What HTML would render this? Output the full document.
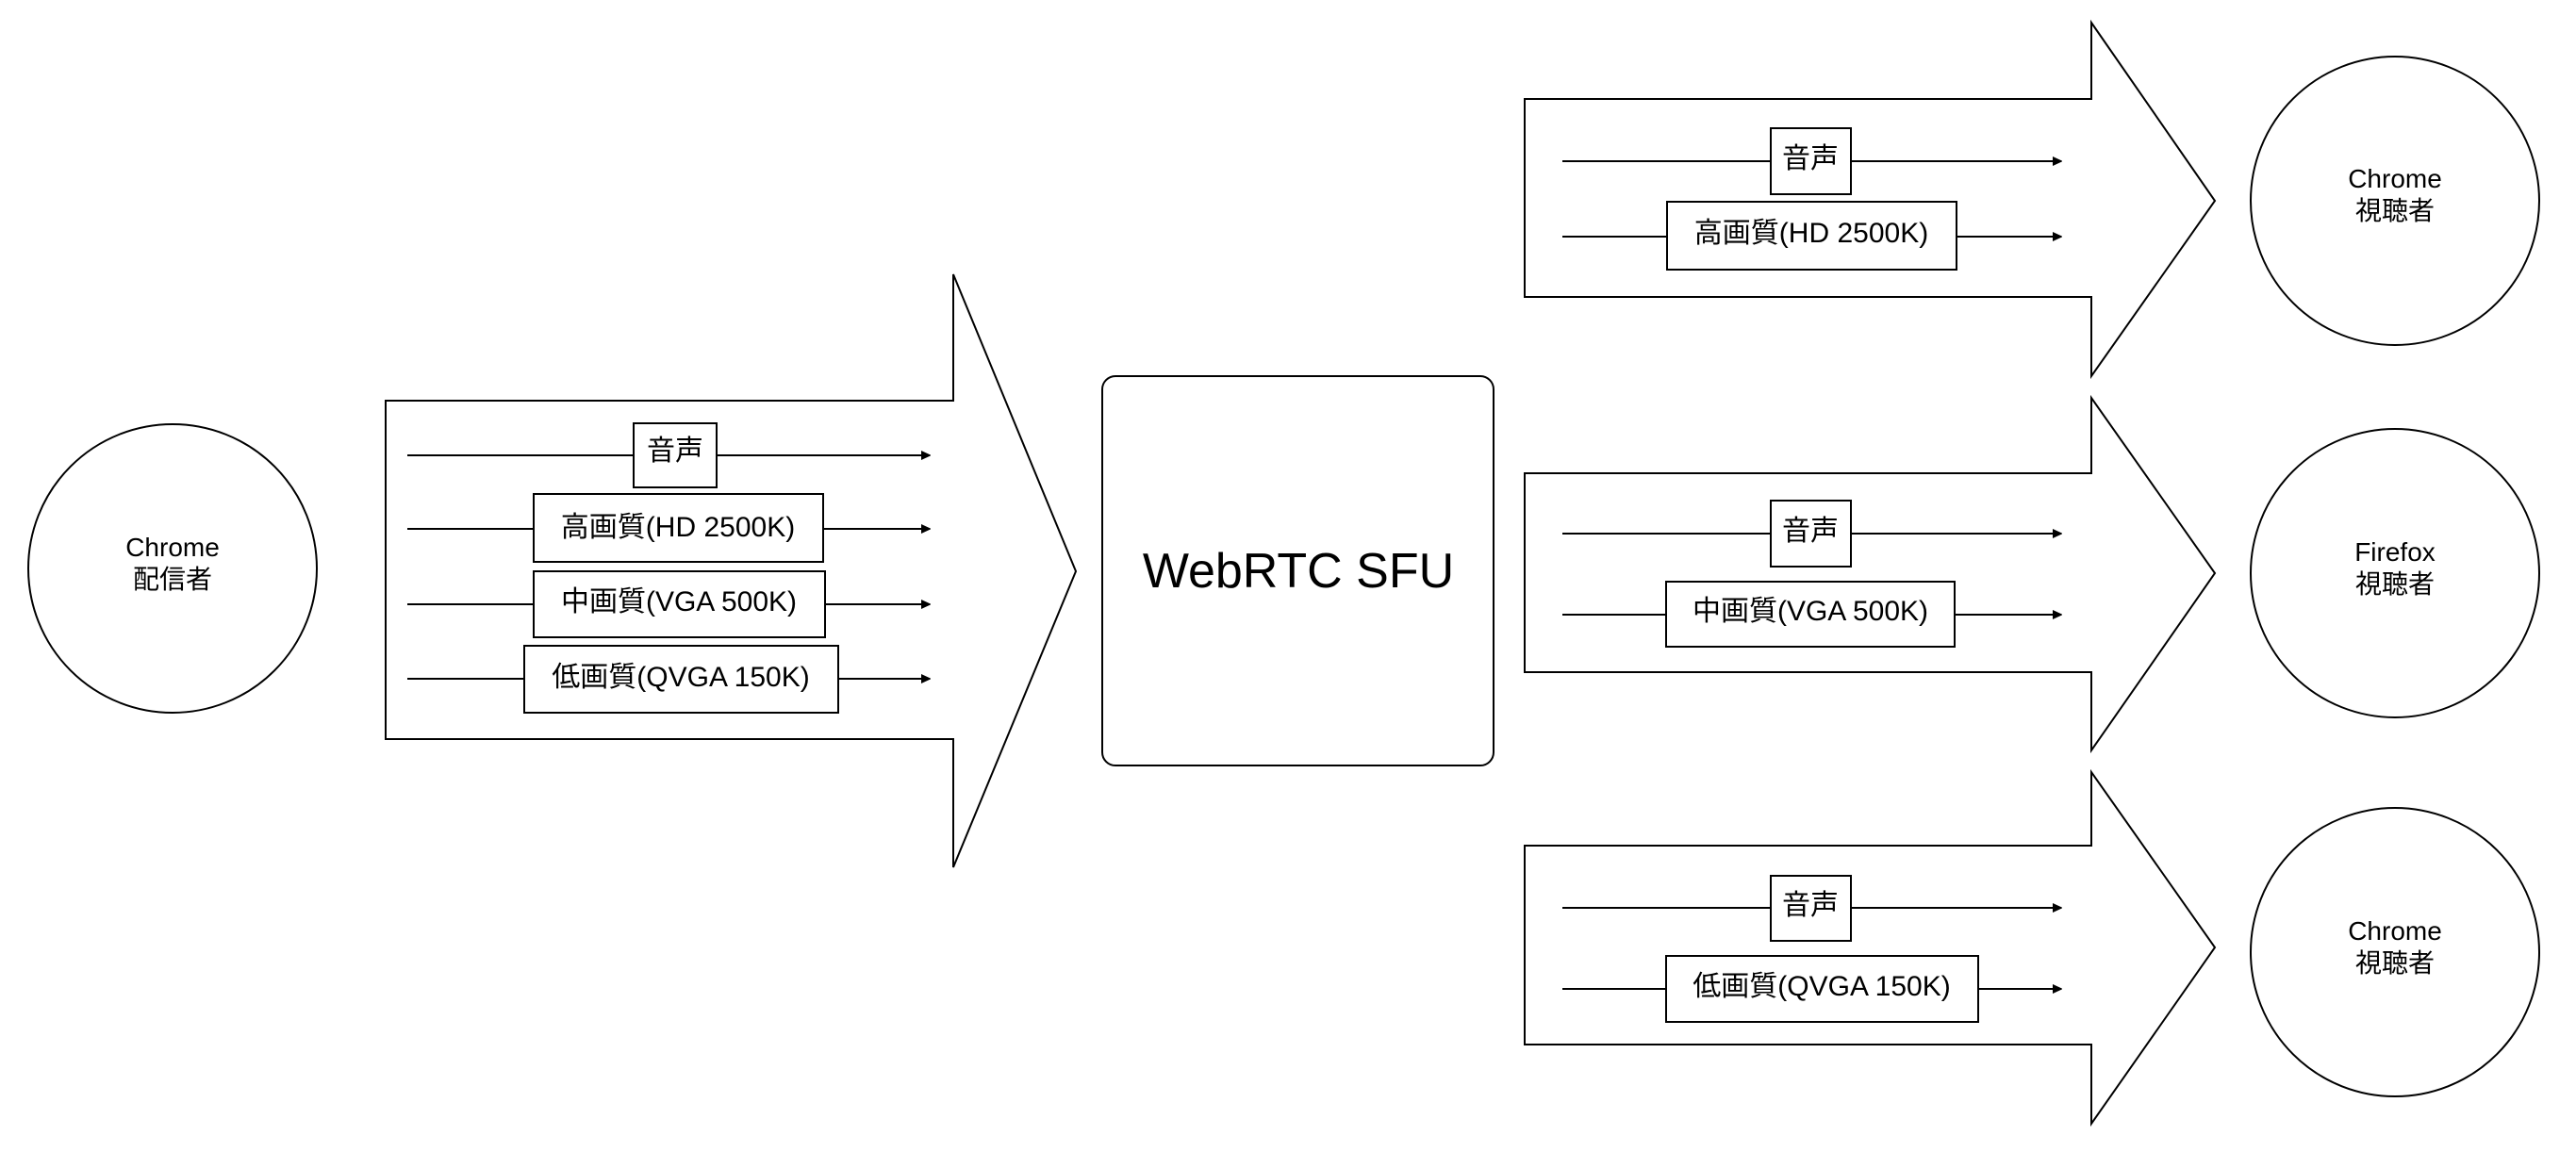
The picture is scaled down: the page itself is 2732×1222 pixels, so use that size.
<!DOCTYPE html>
<html><head><meta charset="utf-8"><style>
html,body{margin:0;padding:0;background:#fff;}
svg{display:block;}
text{font-family:"Liberation Sans","Noto Sans CJK JP",sans-serif;fill:#000;}
</style></head><body>
<svg width="2732" height="1222" viewBox="0 0 2732 1222" xmlns="http://www.w3.org/2000/svg">
<defs><marker id="a" markerWidth="10" markerHeight="10" refX="9" refY="5" orient="auto" markerUnits="userSpaceOnUse"><path d="M0,0 L18,5 L0,10 z" transform="scale(0.6,1)"/></marker></defs>
<g fill="#fff" stroke="#000" stroke-width="2">
<circle cx="183" cy="603" r="153"/>
<polygon points="409,425 1011,425 1011,291 1141,606 1011,920 1011,784 409,784"/>
<rect x="1169" y="399" width="415" height="413" rx="14"/>
<polygon points="1617,105 2218,105 2218,24 2349,213 2218,399 2218,315 1617,315"/>
<polygon points="1617,502 2218,502 2218,422 2349,608 2218,796 2218,713 1617,713"/>
<polygon points="1617,897 2218,897 2218,819 2349,1005 2218,1192 2218,1108 1617,1108"/>
<circle cx="2540" cy="213" r="153"/>
<circle cx="2540" cy="608" r="153"/>
<circle cx="2540" cy="1010" r="153"/>
</g>
<g stroke="#000" stroke-width="2" marker-end="url(#a)">
<line x1="432" y1="483" x2="986" y2="483"/>
<line x1="432" y1="561" x2="986" y2="561"/>
<line x1="432" y1="641" x2="986" y2="641"/>
<line x1="432" y1="720" x2="986" y2="720"/>
<line x1="1657" y1="171" x2="2186" y2="171"/>
<line x1="1657" y1="251" x2="2186" y2="251"/>
<line x1="1657" y1="566" x2="2186" y2="566"/>
<line x1="1657" y1="652" x2="2186" y2="652"/>
<line x1="1657" y1="963" x2="2186" y2="963"/>
<line x1="1657" y1="1049" x2="2186" y2="1049"/>
</g>
<g fill="#fff" stroke="#000" stroke-width="2">
<rect x="672" y="449" width="88" height="68"/>
<rect x="566" y="524" width="307" height="72"/>
<rect x="566" y="606" width="309" height="70"/>
<rect x="556" y="685" width="333" height="71"/>
<rect x="1878" y="136" width="85" height="70"/>
<rect x="1768" y="214" width="307" height="72"/>
<rect x="1878" y="531" width="85" height="70"/>
<rect x="1767" y="617" width="306" height="69"/>
<rect x="1878" y="929" width="85" height="69"/>
<rect x="1767" y="1014" width="331" height="70"/>
</g>
<g font-size="30" text-anchor="middle">
<text x="716" y="488">音声</text>
<text x="719" y="569">高画質(HD 2500K)</text>
<text x="720" y="648">中画質(VGA 500K)</text>
<text x="722" y="728">低画質(QVGA 150K)</text>
<text x="1920" y="178">音声</text>
<text x="1921" y="257">高画質(HD 2500K)</text>
<text x="1920" y="573">音声</text>
<text x="1920" y="658">中画質(VGA 500K)</text>
<text x="1920" y="970">音声</text>
<text x="1932" y="1056">低画質(QVGA 150K)</text>
</g>
<g font-size="28" text-anchor="middle">
<text x="183" y="590">Chrome</text><text x="183" y="624">配信者</text>
<text x="2540" y="199">Chrome</text><text x="2540" y="233">視聴者</text>
<text x="2540" y="595">Firefox</text><text x="2540" y="629">視聴者</text>
<text x="2540" y="997">Chrome</text><text x="2540" y="1031">視聴者</text>
</g>
<text x="1377" y="623" font-size="52" text-anchor="middle">WebRTC SFU</text>
</svg>
</body></html>
